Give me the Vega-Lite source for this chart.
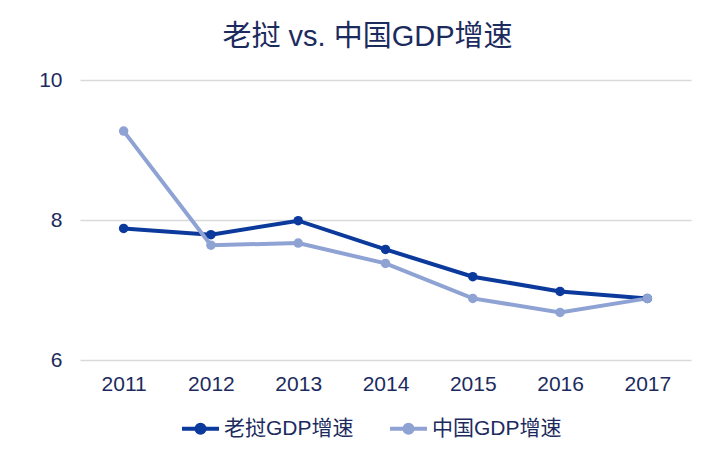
{
  "$schema": "https://vega.github.io/schema/vega-lite/v6.json",
  "width": 611,
  "height": 280,
  "autosize": {"type": "none"},
  "padding": {"left": 80, "top": 80, "right": 28, "bottom": 107},
  "background": "#ffffff",
  "config": {
    "font": "Liberation Sans, Noto Sans CJK SC",
    "view": {"stroke": null}
  },
  "title": {
    "text": "老挝 vs. 中国GDP增速",
    "fontSize": 29,
    "fontWeight": "normal",
    "color": "#1C2B5E",
    "anchor": "middle",
    "frame": "group",
    "dx": -18,
    "offset": 17
  },
  "data": {
    "values": [
      {"series": "老挝GDP增速", "year": "2011", "value": 7.88},
      {"series": "老挝GDP增速", "year": "2012", "value": 7.79},
      {"series": "老挝GDP增速", "year": "2013", "value": 7.99},
      {"series": "老挝GDP增速", "year": "2014", "value": 7.58},
      {"series": "老挝GDP增速", "year": "2015", "value": 7.19},
      {"series": "老挝GDP增速", "year": "2016", "value": 6.98},
      {"series": "老挝GDP增速", "year": "2017", "value": 6.88},
      {"series": "中国GDP增速", "year": "2011", "value": 9.27},
      {"series": "中国GDP增速", "year": "2012", "value": 7.64},
      {"series": "中国GDP增速", "year": "2013", "value": 7.67},
      {"series": "中国GDP增速", "year": "2014", "value": 7.38},
      {"series": "中国GDP增速", "year": "2015", "value": 6.88},
      {"series": "中国GDP增速", "year": "2016", "value": 6.68},
      {"series": "中国GDP增速", "year": "2017", "value": 6.88}
    ]
  },
  "mark": {
    "type": "line",
    "strokeWidth": 4,
    "point": {"filled": true, "size": 90, "opacity": 1}
  },
  "encoding": {
    "x": {
      "field": "year",
      "type": "ordinal",
      "scale": {"type": "point", "padding": 0.5},
      "axis": {
        "title": null,
        "labelAngle": 0,
        "labelFontSize": 21,
        "labelColor": "#1C2B5E",
        "labelPadding": 13,
        "ticks": false,
        "tickSize": 0,
        "domain": false,
        "grid": false
      }
    },
    "y": {
      "field": "value",
      "type": "quantitative",
      "scale": {"domain": [6, 10], "nice": false, "zero": false},
      "axis": {
        "title": null,
        "values": [6, 8, 10],
        "labelFontSize": 21,
        "labelColor": "#1C2B5E",
        "labelPadding": 18,
        "ticks": false,
        "tickSize": 0,
        "domain": false,
        "grid": true,
        "gridColor": "#D9D9D9",
        "gridWidth": 1.5
      }
    },
    "color": {
      "field": "series",
      "type": "nominal",
      "scale": {
        "domain": ["老挝GDP增速", "中国GDP增速"],
        "range": ["#0B3A9C", "#8EA2D3"]
      },
      "legend": {
        "title": null,
        "orient": "none",
        "legendX": 100,
        "legendY": 328,
        "direction": "horizontal",
        "labelFontSize": 21,
        "labelColor": "#1C2B5E",
        "labelOffset": 3,
        "columnPadding": 28,
        "symbolType": "M-1,0H1M-0.22,0A0.22,0.22,0,1,1,0.22,0A0.22,0.22,0,1,1,-0.22,0",
        "symbolSize": 1369,
        "symbolStrokeWidth": 4,
        "symbolOpacity": 1,
        "encode": {
          "symbols": {
            "update": {
              "fill": {"scale": "color", "field": "value"},
              "stroke": {"scale": "color", "field": "value"}
            }
          }
        }
      }
    }
  }
}
